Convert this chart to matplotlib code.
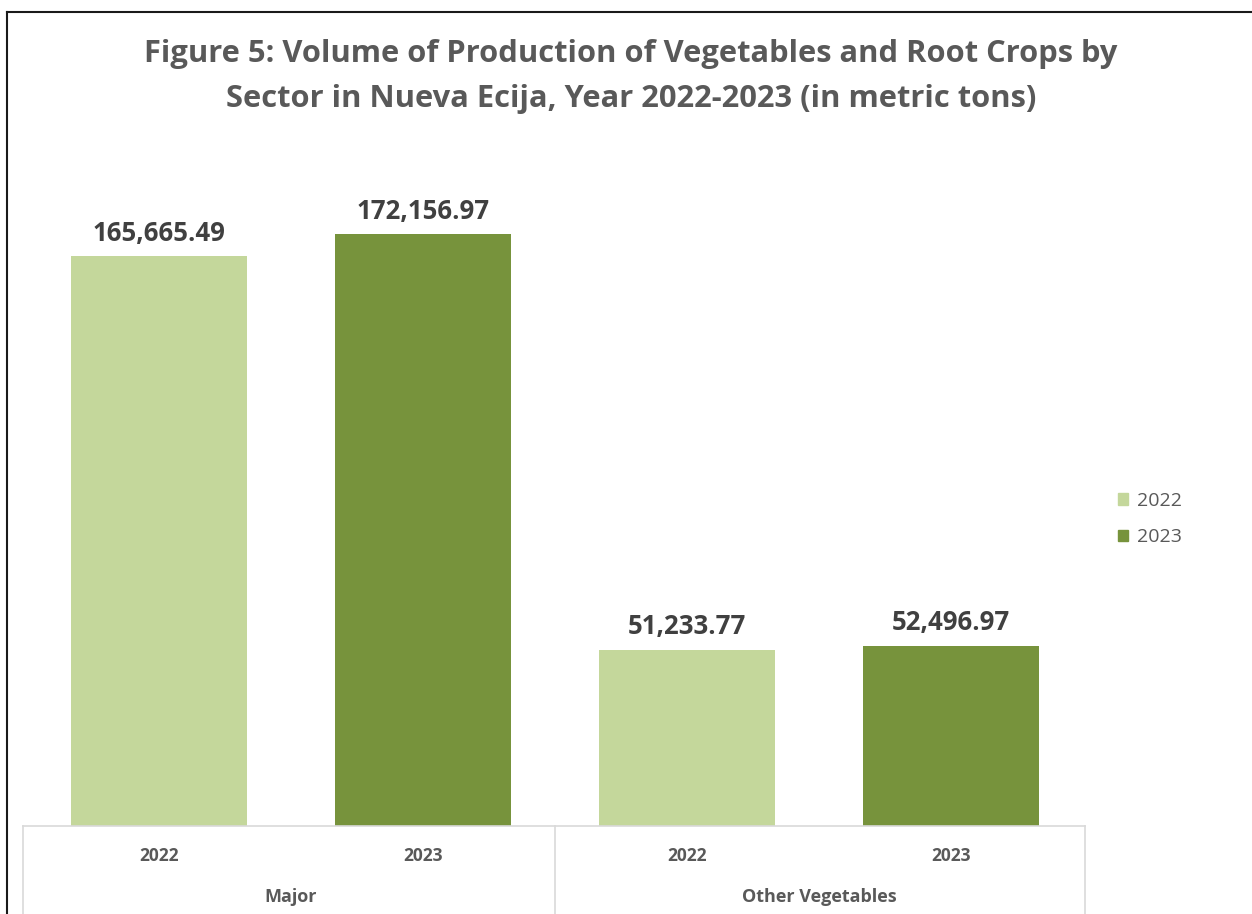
import matplotlib.pyplot as plt
from matplotlib.lines import Line2D
from matplotlib.patches import Patch

# production volume (metric tons)
sectors = ["Major", "Other Vegetables"]
years = ["2022", "2023"]
vol_2022 = [165665.49, 51233.77]
vol_2023 = [172156.97, 52496.97]

light = "#C4D79B"
dark = "#77933C"
txt = "#595959"

W, H = 1252, 914
fig = plt.figure(figsize=(W / 100, H / 100), dpi=100)

# plot area placed in pixel terms
left, right, top, bottom = 23, 1085, 190, 826
ax = fig.add_axes([left / W, 1 - bottom / H, (right - left) / W, (bottom - top) / H])

pos = []
vals = []
cols = []
for i in range(len(sectors)):
    pos += [2 * i, 2 * i + 1]
    vals += [vol_2022[i], vol_2023[i]]
    cols += [light, dark]

bars = ax.bar(pos, vals, width=0.667, color=cols, zorder=2)
for b, v in zip(bars, vals):
    ax.text(b.get_x() + b.get_width() / 2, v + 2800, f"{v:,.2f}",
            ha="center", va="bottom", fontsize=18.5, fontweight="bold",
            color="#404040", family="Open Sans")

ax.set_xlim(-0.515, 3.508)
ax.set_ylim(0, 185000)
ax.axis("off")

# two-level category axis drawn as a light grid box
tr = ax.get_xaxis_transform()
grid = "#D9D9D9"
ax.plot([-0.515, 3.508], [0, 0], color=grid, lw=1.2, transform=tr, clip_on=False)
for xv in [-0.515, 1.5, 3.508]:
    ax.plot([xv, xv], [0, -0.14], color=grid, lw=1.2, transform=tr, clip_on=False)

for p, i in zip(pos, range(len(pos))):
    ax.text(p, -0.047, years[i % 2], ha="center", va="center", fontsize=12.5,
            fontweight="bold", color=txt, family="Open Sans", transform=tr)
for i, s in enumerate(sectors):
    ax.text(2 * i + 0.5, -0.112, s, ha="center", va="center", fontsize=13,
            fontweight="bold", color=txt, family="Open Sans", transform=tr)

handles = [Patch(color=light, label=years[0]), Patch(color=dark, label=years[1])]
leg = fig.legend(handles=handles, loc="center left", bbox_to_anchor=(1100 / W, 1 - 519 / H),
                 frameon=False, fontsize=14, handlelength=0.55, handleheight=0.55,
                 handletextpad=0.45, labelspacing=0.95)
for t in leg.get_texts():
    t.set_color(txt)
    t.set_family("Open Sans")

fig.text(631 / W, 1 - 54 / H,
         "Figure 5: Volume of Production of Vegetables and Root Crops by",
         ha="center", va="center", fontsize=22.2, fontweight="bold", color=txt,
         family="Open Sans")
fig.text(631 / W, 1 - 99 / H,
         "Sector in Nueva Ecija, Year 2022-2023 (in metric tons)",
         ha="center", va="center", fontsize=22.2, fontweight="bold", color=txt,
         family="Open Sans")

# outer frame (top and left edges)
fig.add_artist(Line2D([7 / W, 1], [1 - 12 / H, 1 - 12 / H], color="#1a1a1a", lw=1.5))
fig.add_artist(Line2D([7 / W, 7 / W], [0, 1 - 12 / H], color="#1a1a1a", lw=1.5))

fig.savefig("out.png", dpi=100, facecolor="white")
